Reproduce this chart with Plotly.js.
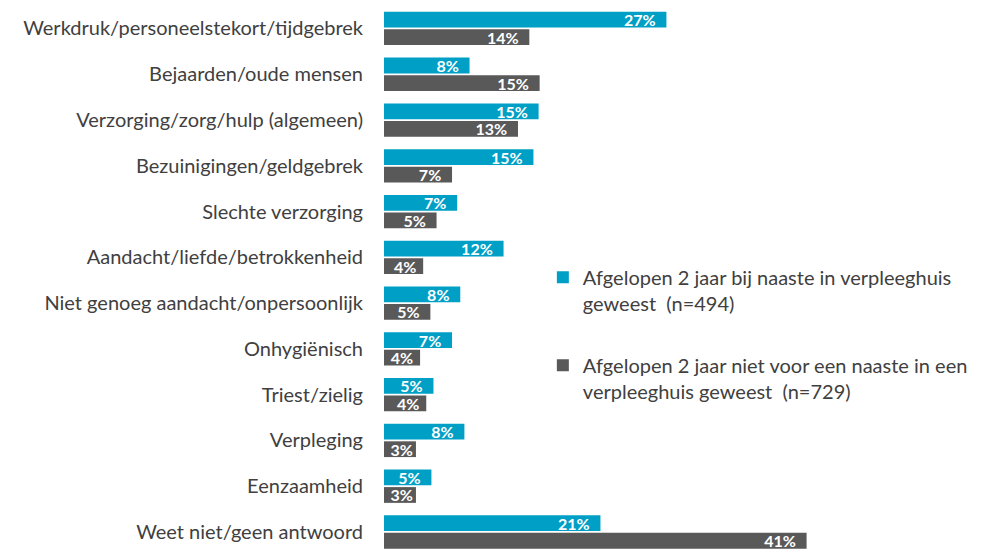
<!DOCTYPE html>
<html>
<head>
<meta charset="utf-8">
<script src="https://cdn.plot.ly/plotly-3.0.1.min.js"></script>
<style>html,body{margin:0;padding:0;background:#fff;}#chart{width:988px;height:552px;}</style>
</head>
<body>
<div id="chart"></div>
<script>
const categories = [
  'Werkdruk/personeelstekort/tijdgebrek',
  'Bejaarden/oude mensen',
  'Verzorging/zorg/hulp (algemeen)',
  'Bezuinigingen/geldgebrek',
  'Slechte verzorging',
  'Aandacht/liefde/betrokkenheid',
  'Niet genoeg aandacht/onpersoonlijk',
  'Onhygiënisch',
  'Triest/zielig',
  'Verpleging',
  'Eenzaamheid',
  'Weet niet/geen antwoord'
];
const seriesNames = [
  'Afgelopen 2 jaar bij naaste in verpleeghuis<br>geweest  (n=494)',
  'Afgelopen 2 jaar niet voor een naaste in een<br>verpleeghuis geweest  (n=729)'
];
const valuesVisited = [27.4, 8.3, 15.0, 14.5, 7.1, 11.6, 7.4, 6.6, 4.8, 7.8, 4.6, 21.0];
const valuesNotVisited = [14.1, 15.1, 13.0, 6.6, 5.1, 3.8, 4.5, 3.5, 4.1, 3.1, 3.1, 41.0];
const labelsVisited = ['27%','8%','15%','15%','7%','12%','8%','7%','5%','8%','5%','21%'];
const labelsNotVisited = ['14%','15%','13%','7%','5%','4%','5%','4%','4%','3%','3%','41%'];

// trailing padding inside the bar end, only where the bar is long enough
function padded(labels, values) {
  return labels.map((t, i) => values[i] >= 4.4 ? t + '\u00a0\u00a0' : (values[i] >= 3.4 ? t + '\u00a0' : t));
}
const barText = {family: 'Lato, "Open Sans", sans-serif', size: 16, color: '#ffffff', weight: 'bold'};

const traces = [
  {
    type: 'bar', orientation: 'h', name: seriesNames[0],
    x: valuesVisited, y: categories,
    text: padded(labelsVisited, valuesVisited),
    textposition: 'inside', insidetextanchor: 'end', constraintext: 'none',
    insidetextfont: barText, textangle: 0, cliponaxis: false,
    marker: {color: '#00A0C6'}, hoverinfo: 'x+y', legend: 'legend'
  },
  {
    type: 'bar', orientation: 'h', name: seriesNames[1],
    x: valuesNotVisited, y: categories,
    text: padded(labelsNotVisited, valuesNotVisited),
    textposition: 'inside', insidetextanchor: 'end', constraintext: 'none',
    insidetextfont: barText, textangle: 0, cliponaxis: false,
    marker: {color: '#595959'}, hoverinfo: 'x+y', legend: 'legend2'
  }
];

const legendFont = {family: 'Lato, "Open Sans", sans-serif', size: 20, color: '#404040'};
const layout = {
  width: 988, height: 552,
  margin: {l: 384, r: 0, t: 5, b: 0},
  paper_bgcolor: '#ffffff', plot_bgcolor: '#ffffff',
  barmode: 'group', bargap: 0.235, bargroupgap: 0.1,
  showlegend: true,
  xaxis: {range: [0, 58.6], visible: false, showgrid: false, zeroline: false},
  yaxis: {
    type: 'category', categoryorder: 'array', categoryarray: categories,
    range: [11.437, -0.513],
    showgrid: false, zeroline: false, showline: false, ticks: '',
    ticklabelstandoff: 20,
    tickfont: {family: 'Lato, "Open Sans", sans-serif', size: 20, color: '#404040'}
  },
  legend: {x: 0.263, xanchor: 'left', y: 0.538, yanchor: 'top', font: legendFont, valign: 'top', bgcolor: 'rgba(0,0,0,0)'},
  legend2: {x: 0.263, xanchor: 'left', y: 0.377, yanchor: 'top', font: legendFont, valign: 'top', bgcolor: 'rgba(0,0,0,0)'}
};

Plotly.newPlot('chart', traces, layout, {displayModeBar: false, staticPlot: true});
</script>
</body>
</html>
